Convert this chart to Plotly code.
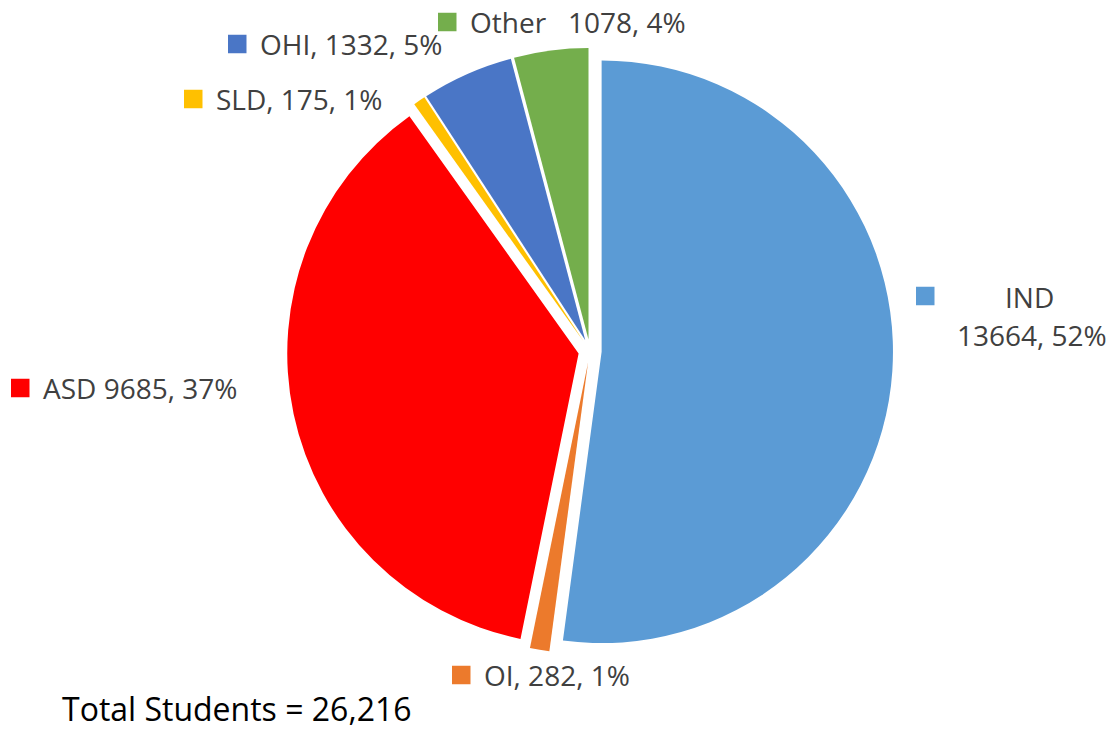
import plotly.graph_objects as go

# Data
categories = ["IND", "OI", "ASD", "SLD", "OHI", "Other"]
values = [13664, 282, 9685, 175, 1332, 1078]
colors = ["#5B9BD5", "#EC7A2C", "#FF0000", "#FFC000", "#4A76C6", "#74AE4C"]
separators = ["<br>", ", ", " ", ", ", ", ", "   "]
total_label = "Total Students = "

W, H = 1114, 729
OFF = 8  # browser default body margin
WF, HF = W - OFF, H - OFF
FONT = "Open Sans"


def px(x):
    return (x - OFF) / WF


def py(y):
    return 1 - (y - OFF) / HF


total = sum(values)

fig = go.Figure()
cx, cy, half = 590, 351, 303
fig.add_trace(go.Pie(
    labels=categories,
    values=values,
    sort=False,
    direction="clockwise",
    rotation=0,
    pull=[0.04] * len(values),
    marker=dict(colors=colors, line=dict(color="rgba(0,0,0,0)", width=0)),
    textinfo="none",
    hoverinfo="label+value+percent",
    showlegend=False,
    domain=dict(x=[px(cx - half), px(cx + half)], y=[py(cy + half), py(cy - half)]),
))

# label positions (marker square left x, center y, text left x)
label_pos = {
    "IND": (916, 296, 0),
    "OI": (452, 675, 482),
    "ASD": (11, 388, 41),
    "SLD": (184, 99, 214),
    "OHI": (228, 44, 258),
    "Other": (438, 22, 468),
}

annotations = []
shapes = []
sq = 18.5
for cat, val, col, sep in zip(categories, values, colors, separators):
    mx, my, tx = label_pos[cat]
    pct = round(100 * val / total)
    shapes.append(dict(type="rect", xref="paper", yref="paper",
                       x0=px(mx), x1=px(mx + sq), y0=py(my + sq / 2), y1=py(my - sq / 2),
                       fillcolor=col, line=dict(width=0)))
    if cat == "IND":
        annotations.append(dict(x=px(1029), y=py(297), xref="paper", yref="paper",
                                text=cat, showarrow=False, xanchor="center", yanchor="middle",
                                font=dict(size=28, color="#404040", family=FONT)))
        annotations.append(dict(x=px(1032), y=py(335), xref="paper", yref="paper",
                                text=f"{val}, {pct}%", showarrow=False, xanchor="center", yanchor="middle",
                                font=dict(size=28, color="#404040", family=FONT)))
    else:
        annotations.append(dict(x=px(tx), y=py(my), xref="paper", yref="paper",
                                text=f"{cat}{sep}{val}, {pct}%", showarrow=False,
                                xanchor="left", yanchor="middle",
                                font=dict(size=28, color="#404040", family=FONT)))

annotations.append(dict(x=px(60), y=py(708), xref="paper", yref="paper",
                        text=f"{total_label}{total:,}", showarrow=False,
                        xanchor="left", yanchor="middle",
                        font=dict(size=32, color="#000000", family=FONT)))

fig.update_layout(
    width=WF, height=HF,
    margin=dict(l=0, r=0, t=0, b=0),
    paper_bgcolor="white",
    plot_bgcolor="white",
    annotations=annotations,
    shapes=shapes,
)

fig.write_html("out.html")
